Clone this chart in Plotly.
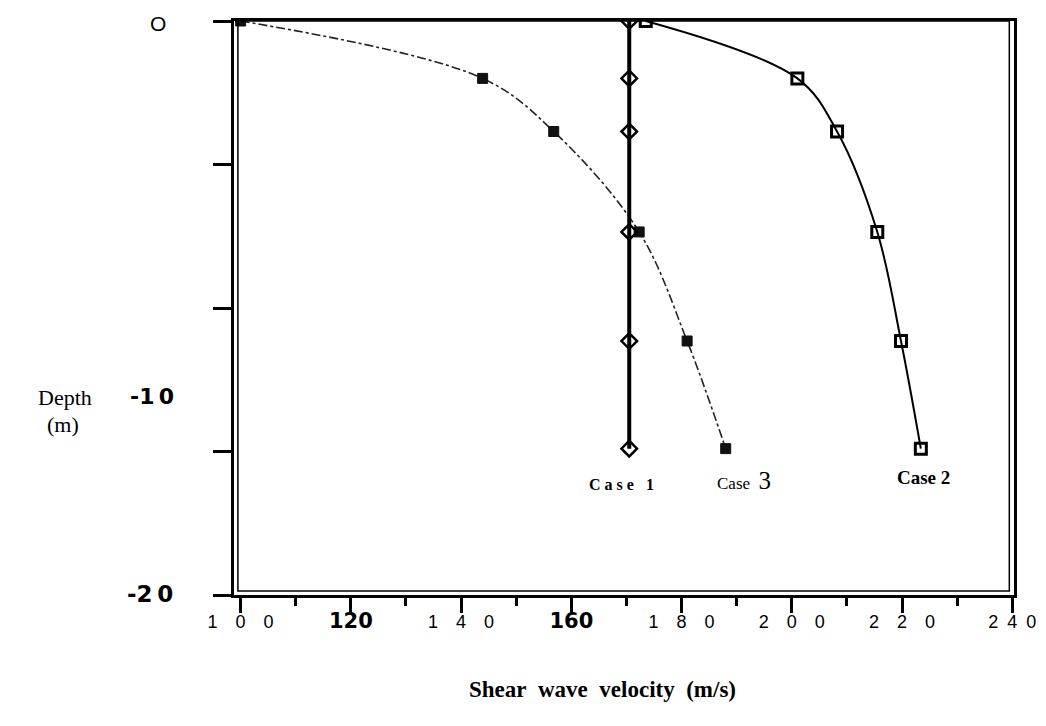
import plotly.graph_objects as go

# depths (m, negative downward)
depth = [0, -2.0, -3.85, -7.35, -11.15, -14.9]
case1_vs = [170.5, 170.5, 170.5, 170.5, 170.5, 170.5]
case2_vs = [173.5, 201.0, 208.2, 215.5, 219.8, 223.4]
case3_vs = [100.0, 143.9, 156.8, 172.3, 181.0, 188.0]

x_tickvals = [100, 120, 140, 160, 180, 200, 220, 240]
x_ticktext = ["1\u20030\u20030", "<b>120</b>", "1\u20034\u20030", "<b>160</b>",
              "1\u20038\u20030", "2\u20030\u20030", "2\u20032\u20030", "2\u20024\u20020"]
x_bold = {120, 160}

# screen geometry of the plot area (page has an 8px body margin)
PL, PR, PT, PB = 234, 1016, 18, 595
OFF = 8
FW, FH = 1046 - OFF, 726 - OFF


def px(xp):
    return (xp - PL) / (PR - PL)


def py(yp):
    return (PB - yp) / (PB - PT)


fig = go.Figure()

fig.add_trace(go.Scatter(
    x=case3_vs, y=depth, mode="lines+markers", name="Case 3",
    line=dict(color="#222", width=1.6, dash="dashdot", shape="spline", smoothing=1.0),
    marker=dict(symbol="square", size=10, color="#111", line=dict(color="#111", width=1)),
))
fig.add_trace(go.Scatter(
    x=case2_vs, y=depth, mode="lines+markers", name="Case 2",
    line=dict(color="black", width=2, shape="spline", smoothing=1.0),
    marker=dict(symbol="square-open", size=11, color="black", line=dict(color="black", width=3)),
))
fig.add_trace(go.Scatter(
    x=case1_vs, y=depth, mode="lines+markers", name="Case 1",
    line=dict(color="black", width=4),
    marker=dict(symbol="diamond-open", size=12, color="black", line=dict(color="black", width=2.5)),
))

ticktext_styled = []
for v, t in zip(x_tickvals, x_ticktext):
    if v in x_bold:
        ticktext_styled.append('<span style="font-family:DejaVu Sans;font-size:21px">' + t + '</span>')
    else:
        ticktext_styled.append(t)

fig.update_xaxes(
    range=[98.8, 240.3], showgrid=False, zeroline=False,
    showline=True, mirror=True, linecolor="black", linewidth=2.5,
    tickmode="array", tickvals=x_tickvals, ticktext=ticktext_styled,
    ticks="outside", ticklen=15, tickwidth=2.5, tickcolor="black",
    tickfont=dict(family="Liberation Sans", size=18, color="black"),
    ticklabelstandoff=-6, ticklabeloverflow="allow",
    minor=dict(dtick=10, tick0=100, ticks="outside", ticklen=8, tickwidth=2.5, tickcolor="black"),
)
fig.update_yaxes(
    range=[-20, 0], showgrid=False, zeroline=False,
    showline=True, mirror=True, linecolor="black", linewidth=2.5,
    tickmode="linear", tick0=0, dtick=5, showticklabels=False,
    ticks="outside", ticklen=18, tickwidth=2.5, tickcolor="black",
)

# double frame lines (scanned look)
fig.add_shape(type="rect", xref="x domain", yref="y domain",
              x0=0.005, x1=0.994, y0=0.007, y1=1.0,
              line=dict(color="black", width=1.5), fillcolor="rgba(0,0,0,0)")

anns = [
    dict(x=px(158), y=py(21), text="O", font=dict(family="Liberation Sans", size=21)),
    dict(x=px(152), y=py(395), text="<b>-1\u20090</b>", font=dict(family="DejaVu Sans", size=22)),
    dict(x=px(150), y=py(594), text="<b>-2\u20090</b>", font=dict(family="DejaVu Sans", size=23)),
    dict(x=px(65), y=py(396), text="Depth", font=dict(family="Liberation Serif", size=22)),
    dict(x=px(63), y=py(424), text="(m)", font=dict(family="Liberation Serif", size=22)),
    dict(x=px(603), y=py(690), text="<b>Shear\u2002wave\u2002velocity\u2002(m/s)</b>",
         font=dict(family="Liberation Serif", size=23)),
    dict(x=px(622), y=py(484), text="<b>C a s e\u2002 1</b>", font=dict(family="Liberation Serif", size=16)),
    dict(x=px(745), y=py(480),
         text='Case\u2002<span style="font-size:25px">3</span>', font=dict(family="Liberation Serif", size=17)),
    dict(x=px(925), y=py(477), text="<b>Case 2</b>", font=dict(family="Liberation Serif", size=19)),
]
for a in anns:
    a.update(xref="paper", yref="paper", showarrow=False, xanchor="center", yanchor="middle")
    a["font"]["color"] = "black"

fig.update_layout(
    width=FW, height=FH,
    margin=dict(l=PL - OFF, r=FW - (PR - OFF), t=PT - OFF, b=FH - (PB - OFF)),
    paper_bgcolor="white", plot_bgcolor="white",
    showlegend=False,
    annotations=anns,
)

fig.write_html("out.html")
